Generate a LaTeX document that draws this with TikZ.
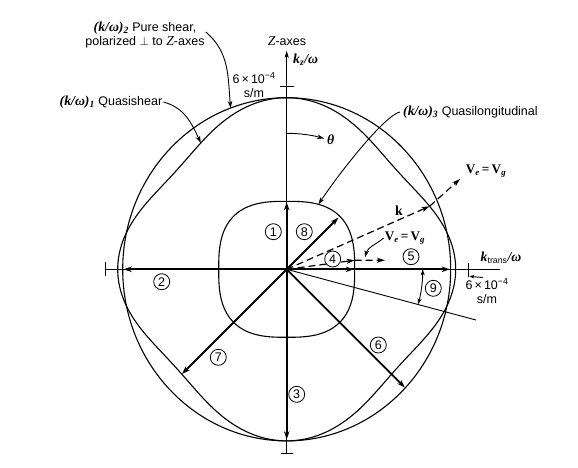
\documentclass[tikz,border=0pt]{standalone}
\usepackage{amsmath}
\usepackage{fontspec}
\setmainfont{Liberation Sans}
\newfontfamily\lserif[Scale=1.1]{Liberation Serif}
\usetikzlibrary{arrows.meta}
\pgfmathdeclarefunction{qlr}{1}{\pgfmathparse{68/((abs(cos(#1)))^2.8+(abs(sin(#1)))^2.8)^(1/2.8)}}
\pgfmathdeclarefunction{qsr}{1}{\pgfmathparse{171.6-2.6*cos(#1)*cos(#1)-22*sin(2*#1)*sin(2*#1)*(1+0.15*cos(2*#1))}}
\newcommand\kwlab[1]{{\lserif\bfseries\itshape (k/ω)\textsubscript{#1}}}
\newcommand\velab{{\lserif\bfseries\large V\textsubscript{\itshape e}\,=\,V\textsubscript{\itshape g}}}
\newcommand\sixlab{6\,×\,10\textsuperscript{−4}\\s/m}

\begin{document}
\begin{tikzpicture}[
    x=1pt, y=1pt,
    font=\fontsize{12.5}{14}\selectfont,
    curve/.style={line width=1.1pt},
    axis/.style={line width=0.9pt},
    vec/.style={line width=1.8pt, -{Stealth[length=8pt, width=5.5pt, inset=2.5pt]}},
    wave/.style={line width=1.2pt, dash pattern=on 7pt off 4pt, -{Stealth[length=8pt, width=5pt, inset=2pt]}},
    callout/.style={line width=0.9pt, -{Stealth[length=7pt, width=4.5pt, inset=2pt]}},
    angarrow/.style={line width=0.9pt, {Stealth[length=6pt, width=4pt, inset=1.5pt]}-{Stealth[length=6pt, width=4pt, inset=1.5pt]}},
    num/.style={draw, circle, line width=0.8pt, inner sep=0pt, minimum size=16pt, fill=white},
    tag/.style={align=center, inner sep=1pt}
  ]
    \useasboundingbox (-286.7,-197.7) rectangle (291.3,269.3);
    \coordinate (O) at (0,0);
    \coordinate (ztop) at (0,218.6);
    \coordinate (zbot) at (0,-183.7);
    \coordinate (xl) at (-181.7,0);
    \coordinate (xr) at (213.3,0);
    \coordinate (l9) at (-15:196);

    \draw[curve] plot[domain=1.25:358.75, samples=144, smooth cycle] (\x:{qlr(\x)});
    \draw[curve] plot[domain=0:357.5, samples=144, smooth cycle] (\x:{qsr(\x)});
    \draw[curve] (O) ellipse[x radius=164pt, y radius=171.6pt];

    \draw[axis, -{Stealth[length=7pt, width=4pt, inset=1.5pt]}] (zbot) -- (ztop);
    \draw[axis] (xl) -- (xr);
    \draw[axis] (O) -- (l9);
    \draw[axis] (-7,183.3) -- (7,183.3);
    \draw[axis] (-6,-183.7) -- (6,-183.7);
    \draw[axis] (-181.7,-7) -- (-181.7,7);
    \draw[axis] (181.3,6) -- (181.3,-7.5);

    \coordinate (t1) at (0,67);
    \coordinate (t2) at (-163,0);
    \coordinate (t3) at (0,-170);
    \coordinate (t4) at (67,0);
    \coordinate (t5) at (163,0);
    \coordinate (t6) at (-45:167);
    \coordinate (t7) at (225:148);
    \coordinate (t8) at (45:73);
    \draw[vec] (O) -- (t1);
    \draw[vec] (O) -- (t2);
    \draw[vec] (O) -- (t3);
    \draw[vec] (O) -- (t5);
    \draw[vec] (O) -- (t4);
    \draw[vec] (O) -- (t6);
    \draw[vec] (O) -- (t7);
    \draw[vec] (O) -- (t8);

    \coordinate (kqs) at (23.8:{qsr(23.8)});
    \coordinate (vqs) at (173.3,90.3);
    \coordinate (kql) at (7.6:{qlr(7.6)});
    \coordinate (vql) at (98.3,9.06);
    \draw[wave] (O) -- (kqs);
    \draw[wave] (kqs) -- (vqs);
    \draw[wave] (O) -- (kql);
    \draw[wave] (kql) -- (vql);

    \coordinate (thstart) at (90:136);
    \coordinate (a9start) at (0:136);
    \draw[callout] (thstart) arc[start angle=90, end angle=74, radius=136pt];
    \draw[angarrow] (a9start) arc[start angle=0, end angle=-15, radius=136pt];

    \node[num] (n1) at (-13.4,37.6) {1};
    \node[num] (n2) at (-125,-12.4) {2};
    \node[num] (n3) at (10,-125) {3};
    \node[num] (n4) at (46,10.3) {4};
    \node[num] (n5) at (124.3,12.6) {5};
    \node[num] (n6) at (91.6,-75.7) {6};
    \node[num] (n7) at (-68.4,-88) {7};
    \node[num] (n8) at (17.6,37.6) {8};
    \node[num] (n9) at (146.6,-19) {9};

    \node[tag] (zlbl) at (0.3,228.3) {{\lserif\itshape Z}-axes};
    \node[tag, anchor=west] (kzlbl) at (5.3,209.3) {{\lserif\bfseries\itshape k\textsubscript{z}/ω}};
    \node[tag] (ktlbl) at (214.3,11.3) {{\lserif\bfseries\itshape k}\textsubscript{trans}{\lserif\bfseries\itshape /ω}};
    \node[tag] (toplbl) at (-32.7,184.3) {\sixlab};
    \node[tag] (rlbl) at (200.3,-21.7) {\sixlab};
    \node[tag] (thlbl) at (44,129.3) {{\lserif\bfseries\itshape θ}};
    \node[tag] (vlbl1) at (199.3,98.3) {\velab};
    \node[tag] (vlbl2) at (118.3,31.3) {\velab};
    \node[tag] (klbl) at (112.3,58.3) {{\lserif\bfseries k}};
    \node[tag] (pslbl) at (-141.7,234.3) {\kwlab{2} Pure shear,\\polarized $\perp$ to {\lserif\itshape Z}-axes};
    \node[tag] (qslbl) at (-175.7,167.3) {\kwlab{1} Quasishear};
    \node[tag, anchor=west] (qllbl) at (115.3,157.3) {\kwlab{3} Quasilongitudinal};

    \coordinate (pstip) at ({164*cos(110)},{171.6*sin(110)});
    \coordinate (qstip) at (124.2:{qsr(124.2)});
    \coordinate (qltip) at (64:{qlr(64)});
    \coordinate (vqltip) at (78.3,12);
    \coordinate (rtick) at (182.6,-7);
    \draw[callout] ([yshift=3pt]pslbl.east) to[out=-40, in=95] (pstip);
    \draw[callout] (qslbl.east) to[out=-15, in=115] (qstip);
    \draw[callout] ([xshift=-2pt]qllbl.west) .. controls +(190:14) and +(56:45) .. (qltip);
    \draw[callout] (vlbl2.west) to[out=220, in=75] (vqltip);
    \draw[callout, -{Stealth[length=5pt, width=3.5pt, inset=1.5pt]}] ([xshift=-4pt]rlbl.north) -- (rtick);
  \end{tikzpicture}
\end{document}
